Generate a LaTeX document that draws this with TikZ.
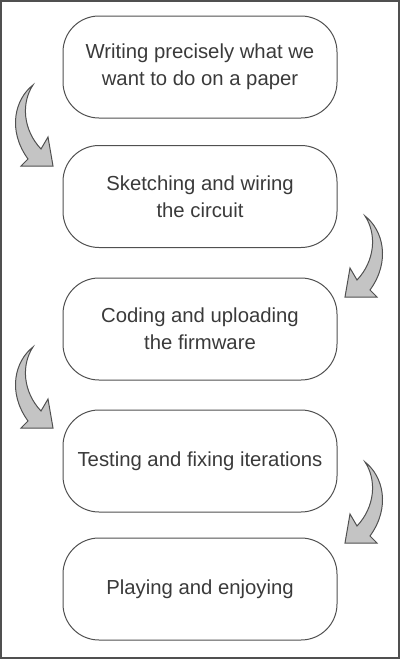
\documentclass[tikz,border=0pt]{standalone}
\usepackage{fontspec}
\setmainfont{Liberation Sans}
\definecolor{inkgray}{HTML}{3A3A3A}
\definecolor{linegray}{HTML}{505050}
\definecolor{arrowgray}{HTML}{C4C4C4}
\tikzset{
  stepbox/.style={draw=linegray,line width=1pt,rounded corners=36pt,
    minimum width=274pt,minimum height=102pt,align=center,text=inkgray,
    font=\fontsize{20.3}{27}\selectfont},
  arrowfill/.style={draw=linegray,fill=arrowgray,line width=1pt,line join=miter},
  bendarrow/.pic={
    \draw[arrowfill] (0,0) .. controls (18,14) and (26,45) .. (5,74) -- (12,81)
      -- (-20,81) -- (-15,52) -- (-8,64) .. controls (10,45) and (12,18) .. (0,0) -- cycle;
  }
}
\begin{document}
\begin{tikzpicture}[x=1pt,y=-1pt]
\useasboundingbox (0,0) rectangle (400,659);
\draw[line width=2pt,linegray] (1,1) rectangle (399,658); %frame

\node[stepbox] (write) at (200,67) {Writing precisely what we\\want to do on a paper};
\node[stepbox] (sketch) at (200,196.5) {Sketching and wiring\\the circuit};
\node[stepbox] (code) at (200,329) {Coding and uploading\\the firmware};
\node[stepbox] (test) at (200,461) {Testing and fixing iterations};
\node[stepbox] (play) at (200,589) {Playing and enjoying};

\pic[xscale=-1] (arrowa) at (33,85) {bendarrow};
\pic (arrowb) at (365,216) {bendarrow};
\pic[xscale=-1] (arrowc) at (33,347) {bendarrow};
\pic (arrowd) at (365,462) {bendarrow};

\end{tikzpicture}
\end{document}
